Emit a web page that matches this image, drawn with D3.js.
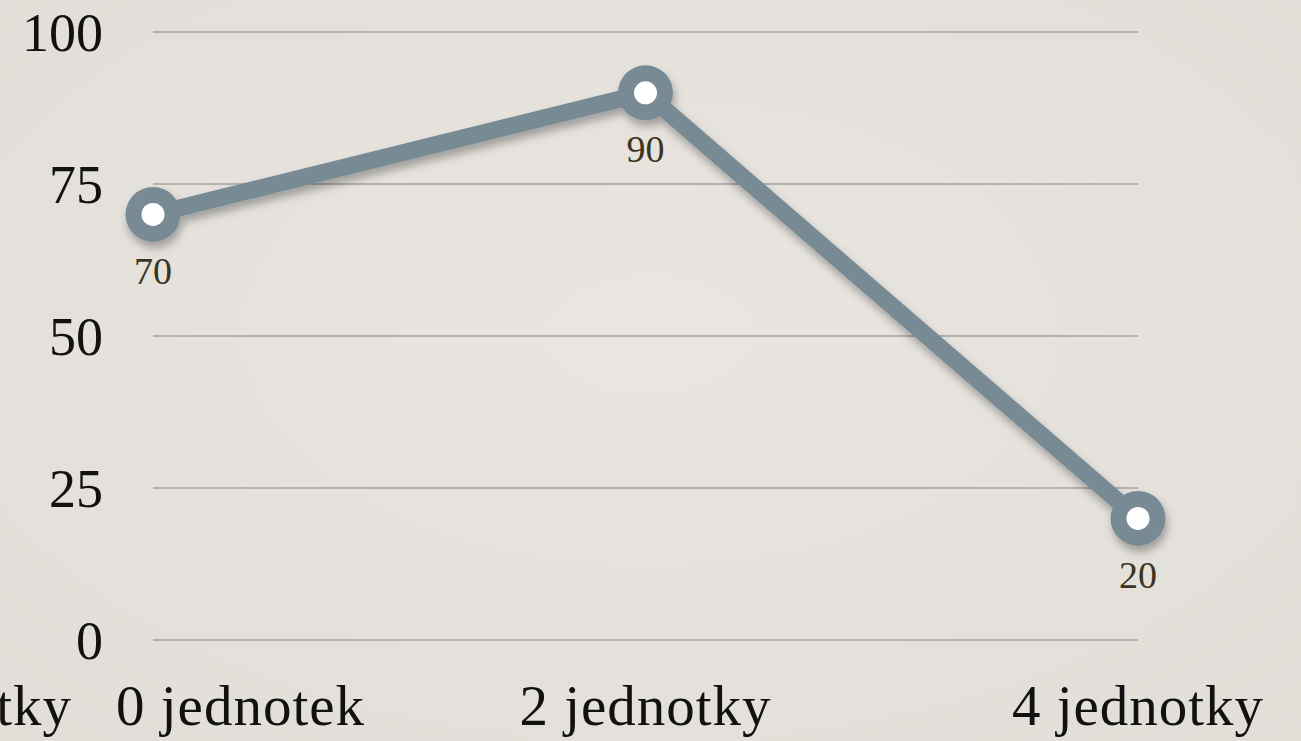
<!DOCTYPE html>
<html>
<head>
<meta charset="utf-8">
<script src="https://cdn.jsdelivr.net/npm/d3@7/dist/d3.min.js"></script>
<style>
html, body { margin: 0; padding: 0; background: #e6e3de; overflow: hidden; }
svg { display: block; }
.tick-y text, .tick-x text { font-family: "Liberation Serif", "DejaVu Serif", serif; fill: #111; }
</style>
</head>
<body>
<svg id="chart" width="1301" height="741"></svg>
<script>
// data
var categories = ["0 jednotek", "2 jednotky", "4 jednotky"];
var values = [70, 90, 20];
var yTicks = [0, 25, 50, 75, 100];
var leftoverLabel = "jednotky"; // label cut off at the left edge

var W = 1301, H = 741;
var svg = d3.select("#chart");

var defs = svg.append("defs");
var f = defs.append("filter").attr("id", "shadow")
  .attr("x", "-20%").attr("y", "-20%").attr("width", "140%").attr("height", "140%");
f.append("feDropShadow").attr("dx", 2).attr("dy", 6).attr("stdDeviation", 4.5)
  .attr("flood-color", "#000").attr("flood-opacity", 0.3);

// subtle paper tone
var grad = defs.append("radialGradient").attr("id", "paper").attr("cx", "50%").attr("cy", "45%").attr("r", "75%");
grad.append("stop").attr("offset", "0%").attr("stop-color", "#e9e6e1");
grad.append("stop").attr("offset", "100%").attr("stop-color", "#e1ded8");
svg.append("rect").attr("width", W).attr("height", H).attr("fill", "url(#paper)");

var x = d3.scalePoint().domain(categories).range([153, 1138]);
var y = d3.scaleLinear().domain([0, 100]).range([640, 32]);

// grid
svg.append("g").selectAll("line").data(yTicks).join("line")
  .attr("x1", 153).attr("x2", 1138)
  .attr("y1", function(d) { return y(d); }).attr("y2", function(d) { return y(d); })
  .attr("stroke", "#b4b2ad").attr("stroke-width", 2);

// y labels
svg.append("g").attr("class", "tick-y").selectAll("text").data(yTicks).join("text")
  .attr("x", 103).attr("y", function(d) { return y(d); })
  .attr("dy", "0.35em").attr("text-anchor", "end")
  .style("font-size", "54px")
  .text(function(d) { return d; });

// x labels
var xl = svg.append("g").attr("class", "tick-x");
xl.selectAll("text.cat").data(categories).join("text").attr("class", "cat")
  .attr("x", function(d, i) { return i === 0 ? x(d) - 37 : x(d); })
  .attr("y", 725)
  .attr("text-anchor", function(d, i) { return i === 0 ? "start" : "middle"; })
  .style("font-size", "57px")
  .style("letter-spacing", "1px")
  .text(function(d) { return d; });
xl.append("text")
  .attr("x", 72).attr("y", 725).attr("text-anchor", "end")
  .style("font-size", "57px").style("letter-spacing", "1px")
  .text(leftoverLabel);

// line + markers
var pts = categories.map(function(c, i) { return [x(c), y(values[i])]; });
var series = svg.append("g").attr("filter", "url(#shadow)");
series.append("path")
  .attr("d", d3.line()(pts))
  .attr("fill", "none").attr("stroke", "#788a94")
  .attr("stroke-width", 17).attr("stroke-linejoin", "round");
series.selectAll("circle").data(pts).join("circle")
  .attr("cx", function(d) { return d[0]; }).attr("cy", function(d) { return d[1]; })
  .attr("r", 27.5).attr("fill", "#788a94");
svg.append("g").selectAll("circle").data(pts).join("circle")
  .attr("cx", function(d) { return d[0]; }).attr("cy", function(d) { return d[1]; })
  .attr("r", 11.5).attr("fill", "#fff");

// value labels
svg.append("g").selectAll("text").data(values).join("text")
  .attr("x", function(d, i) { return x(categories[i]); })
  .attr("y", function(d) { return y(d) + 56; })
  .attr("dy", "0.35em").attr("text-anchor", "middle")
  .style("font-family", "'Liberation Serif', 'DejaVu Serif', serif")
  .style("font-size", "38px").style("fill", "#3b3420")
  .text(function(d) { return d; });
</script>
</body>
</html>
